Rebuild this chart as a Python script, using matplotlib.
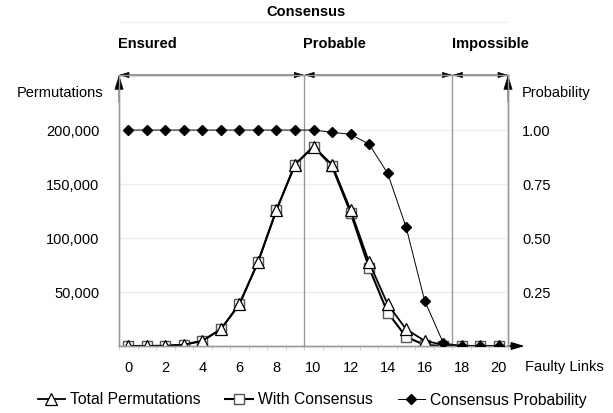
import numpy as np
import matplotlib.pyplot as plt

plt.rcParams['font.family'] = ['Liberation Sans', 'DejaVu Sans']
plt.rcParams['font.size'] = 10.5

# data
faulty_links = list(range(21))
total_perm = [1, 20, 190, 1140, 4845, 15504, 38760, 77520, 125970, 167960, 184756,
              167960, 125970, 77520, 38760, 15504, 4845, 1140, 190, 20, 1]
with_consensus = [1, 20, 190, 1140, 4845, 15504, 38760, 77520, 125970, 167960, 184756,
                  166300, 123500, 72500, 31000, 8500, 1000, 15, 0, 0, 0]
consensus_prob = [1.0, 1.0, 1.0, 1.0, 1.0, 1.0, 1.0, 1.0, 1.0, 1.0, 1.0,
                  0.99, 0.98, 0.935, 0.80, 0.55, 0.21, 0.015, 0.0, 0.0, 0.0]

region_names = ['Ensured', 'Probable', 'Impossible']
region_bounds = [-0.5, 9.5, 17.5, 20.5]

left_ticks = [50000, 100000, 150000, 200000]
left_labels = ['50,000', '100,000', '150,000', '200,000']
right_ticks = [0.25, 0.5, 0.75, 1.0]
right_labels = ['0.25', '0.50', '0.75', '1.00']
x_ticks = list(range(0, 21, 2))

grey = '#999999'

fig = plt.figure(figsize=(6.13, 4.13), dpi=100)
ax = fig.add_axes([119/613, (413-346)/413, 389/613, 271/413])

ax.plot(faulty_links, with_consensus, '-', color='black', lw=1.5, marker='s',
        ms=7, mfc='white', mec='#555555', mew=1, label='With Consensus', zorder=3)
ax.plot(faulty_links, total_perm, '-', color='black', lw=1.3, marker='^',
        ms=8, mfc='white', mec='black', mew=0.9, label='Total Permutations', zorder=4)

ax.set_xlim(-0.5, 20.5)
ax.set_ylim(0, 251000)
ax.set_yticks(left_ticks)
ax.set_yticklabels(left_labels)
ax.set_xticks(x_ticks)
ax.set_xticks(np.arange(-0.5, 21, 1), minor=True)
ax.tick_params(axis='x', which='major', length=0, pad=11)
ax.tick_params(axis='x', which='minor', length=3, color='#cccccc')
ax.tick_params(axis='y', length=0, pad=14)
ax.grid(axis='y', color='#eeeeee', lw=1)
ax.set_axisbelow(True)
for s in ax.spines.values():
    s.set_color(grey)
    s.set_linewidth(1)

for b in region_bounds[1:-1]:
    ax.axvline(b, color=grey, lw=1, zorder=1)

ax2 = ax.twinx()
ax2.plot(faulty_links, consensus_prob, '-', color='black', lw=0.7, marker='D',
         ms=5.5, mfc='black', mec='black', label='Consensus Probability', zorder=5)
ax2.set_ylim(0, 1.255)
ax2.set_yticks(right_ticks)
ax2.set_yticklabels(right_labels)
ax2.tick_params(axis='y', length=0, pad=10)
for s in ax2.spines.values():
    s.set_color(grey)
    s.set_linewidth(1)

# arrowheads on the range lines along the top
for i in range(len(region_names)):
    ax.annotate('', xy=(region_bounds[i], 1.0), xytext=(region_bounds[i+1], 1.0),
                xycoords=('data', 'axes fraction'), textcoords=('data', 'axes fraction'),
                arrowprops=dict(arrowstyle='<|-|>,head_length=0.6,head_width=0.18',
                                color='black', lw=0.5, shrinkA=0, shrinkB=0),
                annotation_clip=False)
    xpix = 127 + region_bounds[i] * 18.55
    fig.text(xpix/613, (413-44)/413, region_names[i], fontsize=10.5, fontweight='bold',
             ha='left', va='center')

# axis arrows
for xa in [0.0, 1.0]:
    ax.annotate('', xy=(xa, 1.0), xytext=(xa, 0.9), xycoords='axes fraction',
                arrowprops=dict(arrowstyle='-|>,head_length=0.9,head_width=0.28',
                                color='black', lw=0.5, shrinkA=0, shrinkB=0),
                annotation_clip=False)
ax.annotate('', xy=(21.4, 0), xytext=(20.5, 0),
            arrowprops=dict(arrowstyle='-|>,head_length=0.75,head_width=0.22',
                            color='black', lw=1, shrinkA=0, shrinkB=0),
            annotation_clip=False)

fig.text(306/613, (413-12)/413, 'Consensus', fontsize=10.5, fontweight='bold',
         ha='center', va='center')
fig.add_artist(plt.Line2D([119/613, 508/613], [(413-22)/413]*2, color='#f0f0f0', lw=1))
fig.text(103/613, (413-93)/413, 'Permutations', ha='right', va='center')
fig.text(522/613, (413-93)/413, 'Probability', ha='left', va='center')
fig.text(525/613, (413-367)/413, 'Faulty Links', ha='left', va='center')

h1, l1 = ax.get_legend_handles_labels()
h2, l2 = ax2.get_legend_handles_labels()
handles = [h1[1], h1[0], h2[0]]
labels = [l1[1], l1[0], l2[0]]
fig.legend(handles, labels, loc='center', bbox_to_anchor=(312/613, (413-400)/413), ncol=3,
           frameon=False, handlelength=1.75, handletextpad=0.3, columnspacing=1.6,
           fontsize=11.3)

fig.savefig('out.png', dpi=100)
